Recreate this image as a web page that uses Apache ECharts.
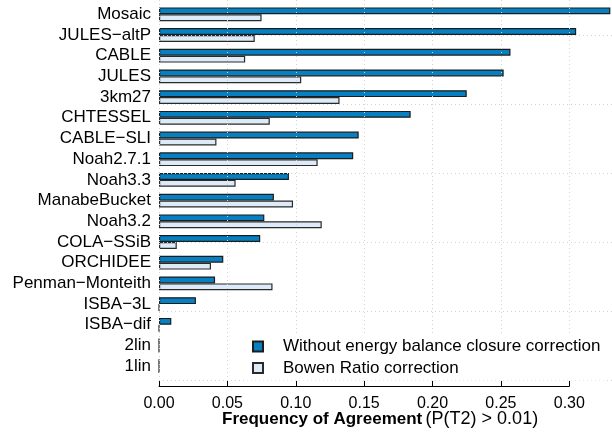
<!DOCTYPE html>
<html>
<head>
<meta charset="utf-8">
<script src="https://cdn.jsdelivr.net/npm/echarts@6/dist/echarts.min.js"></script>
<style>
  html, body { margin: 0; padding: 0; background: #fff; }
  #chart { width: 612px; height: 433px; }
</style>
</head>
<body>
<div id="chart"></div>
<script>
// Land-surface models, top to bottom
const models = ['Mosaic', 'JULES\u2212altP', 'CABLE', 'JULES', '3km27', 'CHTESSEL', 'CABLE\u2212SLI',
  'Noah2.7.1', 'Noah3.3', 'ManabeBucket', 'Noah3.2', 'COLA\u2212SSiB', 'ORCHIDEE',
  'Penman\u2212Monteith', 'ISBA\u22123L', 'ISBA\u2212dif', '2lin', '1lin'];

// Frequency of agreement, P(T2) > 0.01
const withoutCorrection = [0.330, 0.305, 0.257, 0.252, 0.225, 0.184, 0.146, 0.142, 0.095, 0.084,
  0.077, 0.074, 0.047, 0.041, 0.027, 0.009, 0, 0];
const bowenRatio = [0.075, 0.070, 0.063, 0.104, 0.132, 0.081, 0.042, 0.116, 0.056, 0.098,
  0.119, 0.013, 0.038, 0.083, 0, 0, 0, 0];

const seriesNames = ['Without energy balance closure correction', 'Bowen Ratio correction'];
const xTicks = [0, 0.05, 0.10, 0.15, 0.20, 0.25, 0.30];

const FONT = 'Liberation Sans';
const PX_PER_UNIT = 1367.7;     // horizontal scale of the frequency axis
const LEFT = 159;
const gridLineStyle = { color: '#d3d3d3', width: 1, type: [1, 3] };

const chart = echarts.init(document.getElementById('chart'), null, { renderer: 'canvas' });

chart.setOption({
  animation: false,
  backgroundColor: '#fff',
  grid: [
    // bars
    { left: LEFT, top: 3.95, width: 0.33 * PX_PER_UNIT, bottom: 433 - 376.55, containLabel: false },
    // horizontal reference lines
    { left: LEFT, top: 35, right: 0, bottom: 53, containLabel: false },
    // frequency axis and vertical reference lines
    { left: LEFT, top: 0, width: 0.30 * PX_PER_UNIT, bottom: 47, containLabel: false }
  ],
  xAxis: [
    { gridIndex: 0, type: 'value', min: 0, max: 0.33, show: false },
    { gridIndex: 1, type: 'value', min: 0, max: 1, show: false },
    {
      gridIndex: 2, type: 'value', min: 0, max: 0.30, interval: 0.05, z: 3,
      axisLine: { show: true, onZero: false, lineStyle: { color: '#000', width: 1 } },
      axisTick: { show: true, inside: true, length: 5, lineStyle: { color: '#000', width: 1 } },
      axisLabel: {
        show: true, margin: 10, color: '#000', fontSize: 16, fontFamily: FONT,
        formatter: v => v.toFixed(2)
      },
      splitLine: { show: true, lineStyle: gridLineStyle }
    }
  ],
  yAxis: [
    {
      gridIndex: 0, type: 'category', data: models, inverse: true,
      axisLine: { show: false }, axisTick: { show: false },
      axisLabel: { interval: 0, margin: 8, color: '#000', fontSize: 17, fontFamily: FONT },
      splitLine: { show: false }
    },
    {
      gridIndex: 1, type: 'value', min: 0, max: 50, interval: 10, z: 3,
      axisLine: { show: false }, axisTick: { show: false }, axisLabel: { show: false },
      splitLine: { show: true, lineStyle: gridLineStyle }
    },
    { gridIndex: 2, type: 'value', min: 0, max: 1, show: false }
  ],
  legend: {
    orient: 'vertical',
    left: 246, top: 334,
    itemWidth: 10, itemHeight: 10, itemGap: 4.5,
    backgroundColor: '#fff',
    padding: [4, 6, 4, 6],
    icon: 'rect',
    textStyle: { color: '#000', fontSize: 17, fontFamily: FONT, padding: [0, 0, 0, 15] },
    data: seriesNames
  },
  series: [
    {
      name: seriesNames[0], type: 'bar', xAxisIndex: 0, yAxisIndex: 0,
      data: withoutCorrection, barWidth: 6.9, barGap: '0%',
      itemStyle: { color: '#0680c1', borderColor: '#1c1c1c', borderWidth: 1.2 }
    },
    {
      name: seriesNames[1], type: 'bar', xAxisIndex: 0, yAxisIndex: 0,
      data: bowenRatio, barWidth: 6.9, barGap: '0%',
      itemStyle: { color: '#dcebf7', borderColor: '#2a2a2a', borderWidth: 1.2 }
    }
  ],
  graphic: [
    {
      type: 'text', left: 222, top: 410, z: 10,
      style: {
        text: '{b|Frequency of Agreement} {n|(P(T2) > 0.01)}',
        rich: {
          b: { fontFamily: FONT, fontSize: 17, fontWeight: 'bold', fill: '#000' },
          n: { fontFamily: FONT, fontSize: 18, fill: '#000' }
        }
      }
    }
  ]
});
</script>
</body>
</html>
